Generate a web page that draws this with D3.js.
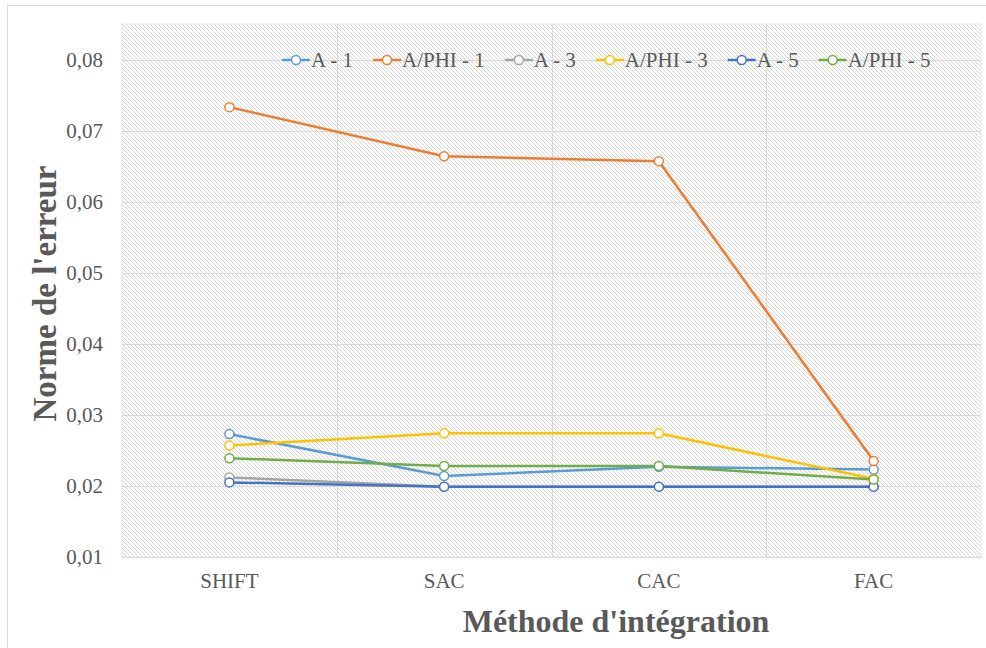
<!DOCTYPE html>
<html>
<head>
<meta charset="utf-8">
<script src="https://cdn.jsdelivr.net/npm/d3@7"></script>
<style>
  body { margin: 0; background: #fff; }
</style>
</head>
<body>
<svg id="chart" width="986" height="648"></svg>
<script>
// categories and series
var methods = ["SHIFT", "SAC", "CAC", "FAC"];
var seriesNames = ["A - 1", "A/PHI - 1", "A - 3", "A/PHI - 3", "A - 5", "A/PHI - 5"];
var a1 = [0.0273, 0.0214, 0.0227, 0.0223];
var aphi1 = [0.0733, 0.0664, 0.0657, 0.0235];
var a3 = [0.0212, 0.0199, 0.0199, 0.0199];
var aphi3 = [0.0257, 0.0274, 0.0274, 0.0210];
var a5 = [0.0205, 0.0199, 0.0199, 0.0199];
var aphi5 = [0.0239, 0.0228, 0.0228, 0.0209];
var yTicks = [0.01, 0.02, 0.03, 0.04, 0.05, 0.06, 0.07, 0.08];

var seriesValues = [a1, aphi1, a3, aphi3, a5, aphi5];
var colors = ["#5B9BD5", "#ED7D31", "#A5A5A5", "#FFC000", "#4472C4", "#70AD47"];
var serif = "Liberation Serif";

var svg = d3.select("#chart");
var margin = {top: 24, right: 5, bottom: 91, left: 122};
var width = 986 - margin.left - margin.right,
    height = 648 - margin.top - margin.bottom;

// outer chart border
svg.append("rect")
  .attr("x", 7.5).attr("y", 5.5)
  .attr("width", 1000).attr("height", 700)
  .attr("fill", "#fff")
  .attr("stroke", "#d9d9d9");

// hatch pattern for the plot area
var defs = svg.append("defs");
var pat = defs.append("pattern")
  .attr("id", "hatch")
  .attr("patternUnits", "userSpaceOnUse")
  .attr("width", 4).attr("height", 4);
pat.append("rect").attr("width", 4).attr("height", 4).attr("fill", "#fff");
pat.append("path")
  .attr("d", "M-1,-1 L5,5 M-1,3 L1,5 M3,-1 L5,1")
  .attr("stroke", "#d6d6d6")
  .attr("stroke-width", 1);

var g = svg.append("g")
  .attr("transform", "translate(" + margin.left + "," + margin.top + ")");

g.append("rect")
  .attr("width", width).attr("height", height)
  .attr("fill", "url(#hatch)")
  .attr("stroke", "#e6e6e6");

var x = d3.scaleBand().domain(methods).range([0, width]);
var y = d3.scaleLinear().domain([0.01, 0.085]).range([height, 0]);

// horizontal gridlines
g.selectAll(".hgrid")
  .data(yTicks)
  .enter().append("line")
    .attr("x1", 0).attr("x2", width)
    .attr("y1", function(d) { return Math.round(y(d)) + 0.5; })
    .attr("y2", function(d) { return Math.round(y(d)) + 0.5; })
    .attr("stroke", "#d9d9d9")
    .attr("stroke-width", 1);

// vertical gridlines between categories
g.selectAll(".vgrid")
  .data(methods.slice(1))
  .enter().append("line")
    .attr("x1", function(d) { return Math.round(x(d)) + 0.5; })
    .attr("x2", function(d) { return Math.round(x(d)) + 0.5; })
    .attr("y1", 0).attr("y2", height)
    .attr("stroke", "#d9d9d9")
    .attr("stroke-width", 1);

// y axis labels
var yAxis = g.append("g")
  .call(d3.axisLeft(y).tickValues(yTicks).tickSize(0).tickPadding(19)
    .tickFormat(function(d) { return d3.format(".2f")(d).replace(".", ","); }));
yAxis.attr("font-family", serif).attr("font-size", 21);
yAxis.select(".domain").remove();
yAxis.selectAll("text").attr("fill", "#595959");

// x axis
var xAxis = g.append("g")
  .attr("transform", "translate(0," + height + ")")
  .call(d3.axisBottom(x).tickSize(0).tickPadding(16));
xAxis.attr("font-family", serif).attr("font-size", 21);
xAxis.select(".domain").attr("stroke", "#d9d9d9");
xAxis.selectAll("text").attr("fill", "#595959");

// axis titles
svg.append("text")
  .attr("x", 616)
  .attr("y", 632)
  .attr("text-anchor", "middle")
  .attr("fill", "#595959")
  .attr("font-family", serif)
  .attr("font-size", 32)
  .attr("font-weight", "bold")
  .text("Méthode d'intégration");

svg.append("text")
  .attr("transform", "translate(56," + (margin.top + height / 2 + 3) + ") rotate(-90)")
  .attr("text-anchor", "middle")
  .attr("fill", "#595959")
  .attr("font-family", serif)
  .attr("font-size", 33)
  .attr("font-weight", "bold")
  .text("Norme de l'erreur");

// lines and markers
var cx = function(i) { return x(methods[i]) + x.bandwidth() / 2; };
var line = d3.line()
  .x(function(d, i) { return cx(i); })
  .y(function(d) { return y(d); });

seriesValues.forEach(function(vals, s) {
  var sg = g.append("g");
  sg.append("path")
    .datum(vals)
    .attr("d", line)
    .attr("fill", "none")
    .attr("stroke", colors[s])
    .attr("stroke-width", 2.5)
    .attr("stroke-linejoin", "round");
  sg.selectAll("circle")
    .data(vals)
    .enter().append("circle")
      .attr("cx", function(d, i) { return cx(i); })
      .attr("cy", function(d) { return y(d); })
      .attr("r", 4.5)
      .attr("fill", "#fff")
      .attr("stroke", colors[s])
      .attr("stroke-width", 1.5);
});

// legend
var lx = 282, ly = 60;
seriesNames.forEach(function(name, s) {
  var lg = svg.append("g");
  lg.append("line")
    .attr("x1", lx).attr("x2", lx + 28)
    .attr("y1", ly).attr("y2", ly)
    .attr("stroke", colors[s]).attr("stroke-width", 2.5);
  lg.append("circle")
    .attr("cx", lx + 14).attr("cy", ly).attr("r", 4.5)
    .attr("fill", "#fff").attr("stroke", colors[s]).attr("stroke-width", 1.5);
  var t = lg.append("text")
    .attr("x", lx + 29).attr("y", ly + 7)
    .attr("fill", "#595959")
    .attr("font-family", serif)
    .attr("font-size", 21)
    .text(name);
  lx = lx + 29 + t.node().getComputedTextLength() + 20;
});
</script>
</body>
</html>
